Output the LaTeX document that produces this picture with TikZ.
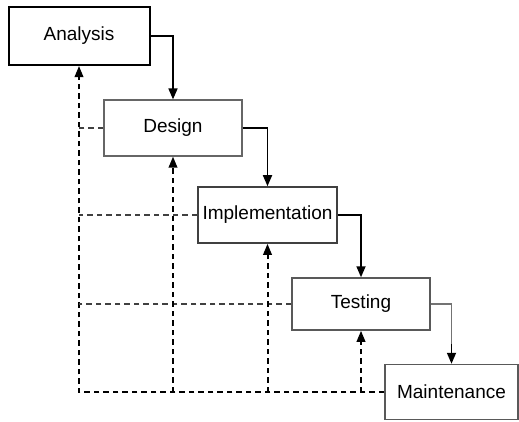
\documentclass[tikz,border=0pt]{standalone}
\usepackage{fontspec}
\setmainfont{Liberation Sans}
\usetikzlibrary{arrows.meta}
\begin{document}
\begin{tikzpicture}[x=1pt,y=-1pt,
  phase/.style={draw, rectangle, inner sep=0pt, font=\fontsize{19}{22}\selectfont},
  flow/.style={line width=1.7pt, -{Triangle[length=11pt,width=9pt]}},
  back/.style={line width=2pt, dash pattern=on 5.5pt off 4pt, -{Triangle[length=11pt,width=8.5pt]}},
  backplain/.style={line width=2pt, dash pattern=on 5.5pt off 4pt, black!75}]
\useasboundingbox (0,0) rectangle (519,421);
\node[phase, line width=2pt, minimum width=141pt, minimum height=58pt] (A) at (79,36) {Analysis};
\node[phase, draw=black!60, line width=1.2pt, minimum width=138pt, minimum height=56pt] (D) at (173,128) {Design};
\node[phase, draw=black!75, line width=1.6pt, minimum width=139pt, minimum height=56pt] (I) at (267.5,215) {Implementation};
\node[phase, draw=black!65, line width=1.5pt, minimum width=138pt, minimum height=52pt] (T) at (361,304) {Testing};
\node[phase, draw=black!65, line width=1.5pt, minimum width=133pt, minimum height=55pt] (M) at (451.5,392) {Maintenance};
\coordinate (Mtop) at ([yshift=20pt]M.north);
% forward flow
\draw[flow] (A.east) -| (D.north);
\draw[flow] (D.east) -| (I.north);
\draw[flow] (I.east) -| (T.north);
\draw[line width=1.2pt, black!55] (T.east) -| (Mtop);
\draw[flow] (Mtop) -- (M.north);
% feedback
\draw[back] (M.west) -- (M.west -| A.south) -- (A.south);
\draw[backplain] (D.west) -- (D.west -| A.south);
\draw[backplain] (I.west) -- (I.west -| A.south);
\draw[backplain] (T.west) -- (T.west -| A.south);
\draw[back] (D.south |- M.west) -- (D.south);
\draw[back] (I.south |- M.west) -- (I.south);
\draw[back] (T.south |- M.west) -- (T.south);
\end{tikzpicture}
\end{document}
